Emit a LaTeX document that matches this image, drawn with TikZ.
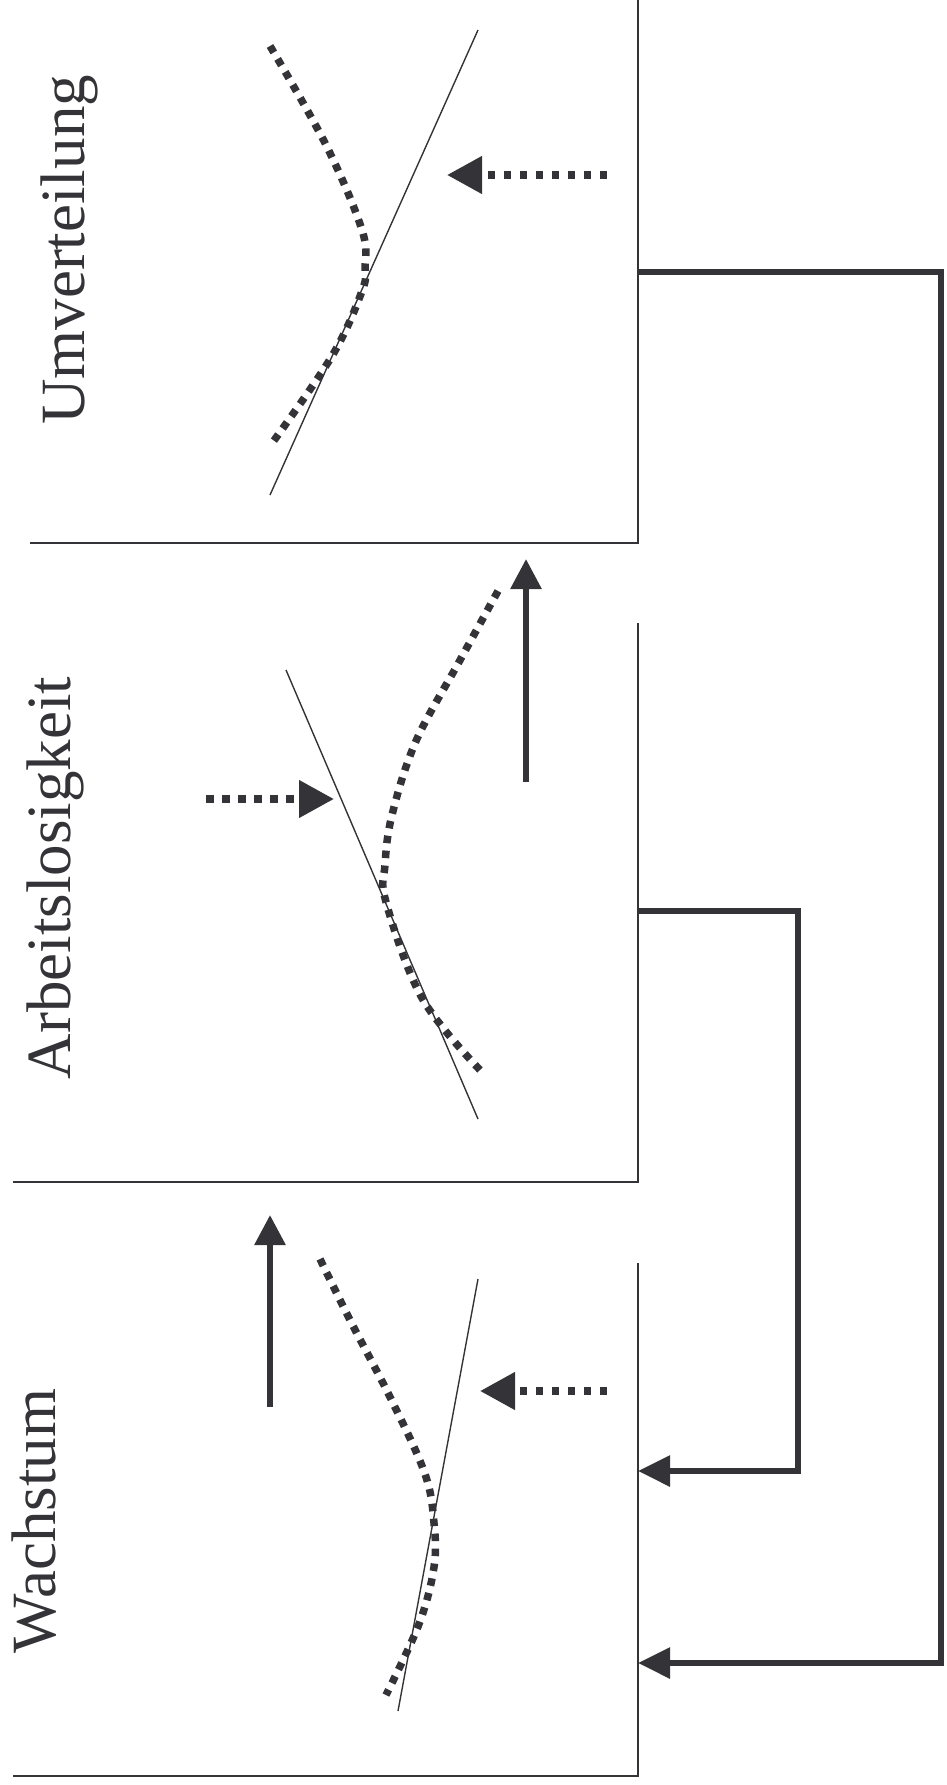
\documentclass[tikz,border=0pt]{standalone}
\usepackage{fontspec}
\setmainfont{Liberation Serif}
\usetikzlibrary{arrows.meta}
\definecolor{ink}{RGB}{52,52,56}
\begin{document}
\begin{tikzpicture}[x=1pt,y=-1pt,
  frame/.style={draw=ink,line width=2pt},
  curveline/.style={draw=ink,line width=1.4pt},
  dotline/.style={draw=ink,line width=7.5pt,dash pattern=on 7.5pt off 7.5pt},
  dotarrow/.style={draw=ink,line width=7.5pt,dash pattern=on 7.5pt off 8.5pt,-{Triangle[length=35pt,width=36pt]}},
  uparrow/.style={draw=ink,line width=6pt,-{Triangle[length=30pt,width=30pt]}},
  feedback/.style={draw=ink,line width=6pt,-{Triangle[length=32pt,width=30pt]}},
  lbl/.style={font=\fontsize{63}{70}\selectfont,text=ink,rotate=90,anchor=base,inner sep=0pt}
]
\useasboundingbox (0,0) rectangle (946,1785);

% frames
\coordinate (b1top) at (638,0);
\coordinate (b1corner) at (638,543);
\coordinate (b1left) at (30,543);
\coordinate (b2top) at (638,623);
\coordinate (b2corner) at (638,1182);
\coordinate (b2left) at (13,1182);
\coordinate (b3top) at (638,1263);
\coordinate (b3corner) at (638,1776);
\coordinate (b3left) at (13,1776);
\draw[frame] (b1top) -- (b1corner) -- (b1left);
\draw[frame] (b2top) -- (b2corner) -- (b2left);
\draw[frame] (b3top) -- (b3corner) -- (b3left);

% labels
\node[lbl] (tU) at (84,250) {Umverteilung};
\node[lbl] (tA) at (70,878) {Arbeitslosigkeit};
\node[lbl] (tW) at (55,1521) {Wachstum};

% panel 1
\draw[curveline] (478,30) -- (270,495);
\draw[dotline] plot[smooth,tension=0.6] coordinates {(270,46) (326,145) (362,230) (365,268) (362,291) (332,356) (270,446)};
\coordinate (d1s) at (607,175);
\coordinate (d1e) at (447,175);
\draw[dotarrow] (d1s) -- (d1e);

% panel 2
\draw[curveline] (286,670) -- (478,1119);
\draw[dotline] plot[smooth,tension=0.6] coordinates {(498,591) (459,662) (416,741) (392,815) (385,865) (386,902) (422,998) (480,1070)};
\coordinate (d2s) at (206,799);
\coordinate (d2e) at (334,799);
\draw[dotarrow] (d2s) -- (d2e);
\coordinate (u1s) at (526,782);
\coordinate (u1e) at (526,559);
\draw[uparrow] (u1s) -- (u1e);

% panel 3
\draw[curveline] (478,1279) -- (398,1711);
\draw[dotline] plot[smooth,tension=0.6] coordinates {(320,1259) (350,1320) (392,1401) (425,1474) (434,1523) (434,1567) (419,1624) (386,1695)};
\coordinate (d3s) at (607,1391);
\coordinate (d3e) at (480,1391);
\draw[dotarrow] (d3s) -- (d3e);
\coordinate (u2s) at (270,1407);
\coordinate (u2e) at (270,1215);
\draw[uparrow] (u2s) -- (u2e);

% feedback connectors
\coordinate (f1s) at (638,272);
\coordinate (f1e) at (638,1663);
\coordinate (f2s) at (638,911);
\coordinate (f2e) at (638,1471);
\draw[feedback] (f1s) -- (941,272) -- (941,1663) -- (f1e);
\draw[feedback] (f2s) -- (798,911) -- (798,1471) -- (f2e);
\end{tikzpicture}
\end{document}
